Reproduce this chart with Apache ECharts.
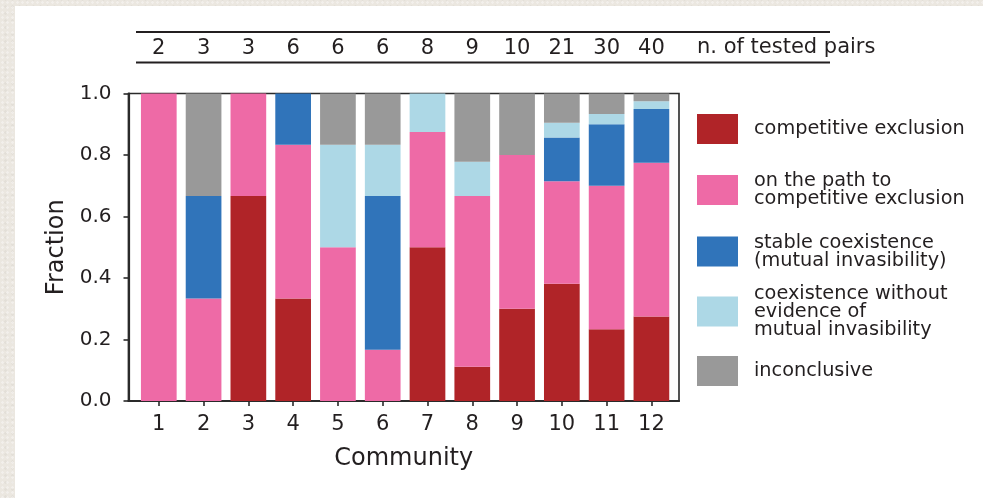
<!DOCTYPE html>
<html>
<head>
<meta charset="utf-8">
<script src="https://cdn.jsdelivr.net/npm/echarts@6/dist/echarts.min.js"></script>
<style>
  html, body { margin: 0; padding: 0; width: 983px; height: 498px; overflow: hidden; }
  body {
    background-color: #ebe7e0;
    background-image:
      radial-gradient(rgba(255,255,255,0.35) 1px, transparent 1.5px),
      radial-gradient(rgba(0,0,0,0.035) 1px, transparent 1.5px);
    background-size: 5px 5px, 7px 7px;
    background-position: 0 0, 2px 3px;
  }
  #panel { position: absolute; left: 15px; top: 6px; right: 0; bottom: 0; background: #ffffff; }
  #chart { position: absolute; left: 0; top: 0; width: 983px; height: 498px; }
</style>
</head>
<body>
<div id="panel"></div>
<div id="chart"></div>
<script>
// Communities 1..12 and the number of tested species pairs in each
const communities = ['1', '2', '3', '4', '5', '6', '7', '8', '9', '10', '11', '12'];
const testedPairs = [2, 3, 3, 6, 6, 6, 8, 9, 10, 21, 30, 40];

// Outcome counts per community
const competitiveExclusion  = [0, 0, 2, 2, 0, 0, 4, 1, 3, 8, 7, 11];
const pathToExclusion       = [2, 1, 1, 3, 3, 1, 3, 5, 5, 7, 14, 20];
const stableCoexistence     = [0, 1, 0, 1, 0, 3, 0, 0, 0, 3, 6, 7];
const coexistenceNoEvidence = [0, 0, 0, 0, 2, 1, 1, 1, 0, 1, 1, 1];
const inconclusive          = [0, 1, 0, 0, 1, 1, 0, 2, 2, 2, 2, 1];

const yTicks = [0, 0.2, 0.4, 0.6, 0.8, 1.0];

const outcomes = [
  { name: 'competitive exclusion', label: 'competitive exclusion', counts: competitiveExclusion, color: '#b02428' },
  { name: 'on the path to competitive exclusion', label: 'on the path to\ncompetitive exclusion', counts: pathToExclusion, color: '#ee6aa6' },
  { name: 'stable coexistence (mutual invasibility)', label: 'stable coexistence\n(mutual invasibility)', counts: stableCoexistence, color: '#3074ba' },
  { name: 'coexistence without evidence of mutual invasibility', label: 'coexistence without\nevidence of\nmutual invasibility', counts: coexistenceNoEvidence, color: '#add8e6' },
  { name: 'inconclusive', label: 'inconclusive', counts: inconclusive, color: '#999999' }
];

const FONT = 'DejaVu Sans';
const INK = '#231f20';
const AXIS = '#2a2a2a';

// stacked fractions of each outcome per community (grid 1 holds the bars)
const series = outcomes.map(o => ({
  name: o.name,
  type: 'bar',
  stack: 'outcome',
  xAxisIndex: 1,
  yAxisIndex: 1,
  barWidth: 35.7,
  itemStyle: { color: o.color },
  emphasis: { disabled: true },
  data: o.counts.map((n, i) => n / testedPairs[i])
}));

// one legend block per outcome, stacked on the right
const legendCenters = [129, 189.5, 251, 311, 371];
const legends = outcomes.map((o, k) => {
  const lines = o.label.split('\n').length;
  const h = Math.max(30, lines * 18);
  return {
    show: true,
    data: [{ name: o.name, icon: 'rect' }],
    left: 697,
    top: legendCenters[k] - h / 2,
    padding: 0,
    itemWidth: 41,
    itemHeight: 30,
    selectedMode: false,
    formatter: () => o.label,
    textStyle: {
      fontFamily: FONT,
      fontSize: 19.3,
      lineHeight: 18,
      color: INK,
      padding: [0, 0, 0, 11]
    }
  };
});

const chart = echarts.init(document.getElementById('chart'), null, { renderer: 'canvas' });
chart.setOption({
  backgroundColor: 'transparent',
  animation: false,
  textStyle: { fontFamily: FONT },
  grid: [
    // outer frame with the y scale
    { left: 128.5, right: 304, top: 93.5, bottom: 97,
      show: true, borderColor: AXIS, borderWidth: 1.6, backgroundColor: 'transparent' },
    // inner band area for the community columns
    { left: 136.4, right: 309.2, top: 93.5, bottom: 97 }
  ],
  legend: legends,
  xAxis: [
    {
      gridIndex: 0,
      type: 'value',
      min: 0, max: 1,
      name: 'Community',
      nameLocation: 'middle',
      nameGap: 46,
      nameTextStyle: { fontFamily: FONT, fontSize: 24, color: INK },
      axisLine: { show: true, onZero: false, lineStyle: { color: AXIS, width: 2.2 } },
      axisTick: { show: false },
      axisLabel: { show: false },
      splitLine: { show: false }
    },
    {
      gridIndex: 1,
      type: 'category',
      position: 'bottom',
      data: communities,
      axisLine: { show: false },
      axisTick: { show: true, alignWithLabel: true, inside: false, length: 5, lineStyle: { color: AXIS, width: 1.6 } },
      axisLabel: { margin: 13, fontFamily: FONT, fontSize: 21, color: INK },
      splitLine: { show: false }
    },
    {
      // tested-pairs row above the plot
      gridIndex: 1,
      type: 'category',
      position: 'top',
      offset: 45,
      data: communities,
      axisLine: { show: false },
      axisTick: { show: false },
      axisLabel: {
        margin: 0,
        verticalAlign: 'middle',
        fontFamily: FONT, fontSize: 21, color: INK,
        formatter: (v, i) => String(testedPairs[i])
      },
      splitLine: { show: false }
    }
  ],
  yAxis: [
    {
      gridIndex: 0,
      type: 'value',
      min: 0,
      max: 1,
      interval: 0.2,
      name: 'Fraction',
      nameLocation: 'middle',
      nameGap: 57,
      nameTextStyle: { fontFamily: FONT, fontSize: 24, color: INK },
      axisLine: { show: true, lineStyle: { color: AXIS, width: 2.2 } },
      axisTick: { show: true, inside: false, length: 5, lineStyle: { color: AXIS, width: 1.6 } },
      axisLabel: {
        margin: 17, fontFamily: FONT, fontSize: 20, color: INK,
        padding: [4, 0, 0, 0],
        formatter: v => yTicks.includes(+v.toFixed(1)) ? v.toFixed(1) : ''
      },
      splitLine: { show: false }
    },
    {
      gridIndex: 1,
      type: 'value',
      min: 0,
      max: 1,
      interval: 0.2,
      show: false
    }
  ],
  graphic: [
    // rules framing the tested-pairs row, and its caption
    { type: 'line', shape: { x1: 136, y1: 32, x2: 830, y2: 32 }, style: { stroke: INK, lineWidth: 2 }, silent: true },
    { type: 'line', shape: { x1: 136, y1: 62.5, x2: 830, y2: 62.5 }, style: { stroke: INK, lineWidth: 2 }, silent: true },
    { type: 'text', x: 697, y: 48, silent: true,
      style: { text: 'n. of tested pairs', font: '21px "DejaVu Sans"', fill: INK, textAlign: 'left', textVerticalAlign: 'middle' } }
  ],
  series: series
});
</script>
</body>
</html>
